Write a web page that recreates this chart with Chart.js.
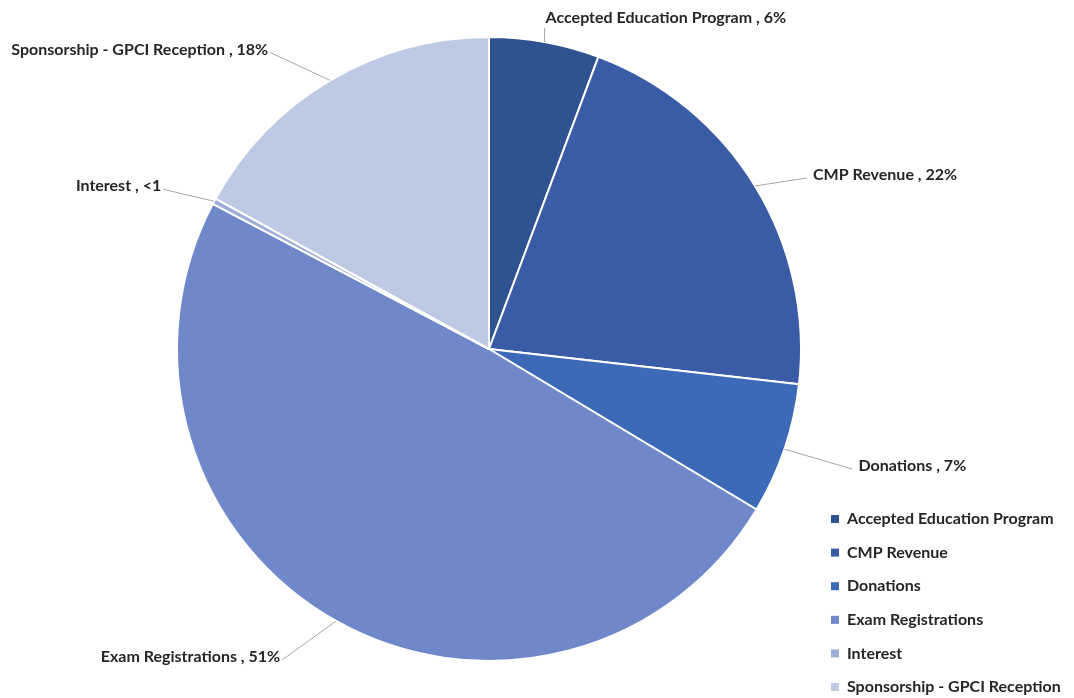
<!DOCTYPE html>
<html>
<head>
<meta charset="utf-8">
<script src="https://cdn.jsdelivr.net/npm/chart.js@4/dist/chart.umd.min.js"></script>
<style>
  html, body { margin: 0; padding: 0; background: #ffffff; }
  #wrap { width: 1074px; height: 698px; position: relative; }
</style>
</head>
<body>
<div id="wrap"><canvas id="revenue_chart"></canvas></div>
<script>
"use strict";

// slice data (clockwise from 12 o'clock)
var categories = ["Accepted Education Program", "CMP Revenue", "Donations", "Exam Registrations", "Interest", "Sponsorship - GPCI Reception"];
var shares = [5.7, 21.1, 6.8, 49.1, 0.3, 17.0];
var shareLabels = ["6%", "22%", "7%", "51%", "<1", "18%"];

var sliceColors = ['#2f5291', '#3a5ca7', '#3d69b9', '#6e88ca', '#9cadd9', '#bec9e4'];
var textColor = '#262626';
var labelFont = 'bold 16px Lato';

// where each callout goes, relative to the slice's outer midpoint
var calloutOffsets = [[0, -14], [52, -8], [68, 20], [-54, 39], [-51, -12], [-60, -28]];

// callouts with leader lines
var calloutPlugin = {
    id: 'callouts',
    afterDatasetsDraw: function (chart) {
        var ctx = chart.ctx;
        var arcs = chart.getDatasetMeta(0).data;
        ctx.save();
        ctx.font = labelFont;
        ctx.textBaseline = 'middle';
        arcs.forEach(function (arc, i) {
            var mid = (arc.startAngle + arc.endAngle) / 2;
            var ax = arc.x + Math.cos(mid) * arc.outerRadius;
            var ay = arc.y + Math.sin(mid) * arc.outerRadius;
            var ex = ax + calloutOffsets[i][0];
            var ey = ay + calloutOffsets[i][1];
            ctx.strokeStyle = '#a6a6a6';
            ctx.lineWidth = 1;
            ctx.beginPath();
            ctx.moveTo(ax, ay);
            ctx.lineTo(ex, ey);
            ctx.stroke();
            var text = categories[i] + ' , ' + shareLabels[i];
            ctx.fillStyle = textColor;
            if (calloutOffsets[i][0] === 0) {
                ctx.textAlign = 'left';
                ctx.fillText(text, ex + 1, ey - 10);
            } else if (calloutOffsets[i][0] > 0) {
                ctx.textAlign = 'left';
                ctx.fillText(text, ex + 6, ey - 3);
            } else {
                ctx.textAlign = 'right';
                ctx.fillText(text, ex - 2, ey - 3);
            }
        });
        ctx.restore();
    }
};

// legend in the lower right corner
var legendPlugin = {
    id: 'cornerLegend',
    afterDraw: function (chart) {
        var ctx = chart.ctx;
        ctx.save();
        ctx.font = labelFont;
        ctx.textBaseline = 'middle';
        ctx.textAlign = 'left';
        chart.data.labels.forEach(function (label, i) {
            var y = 519 + i * 33.6;
            ctx.fillStyle = sliceColors[i];
            ctx.fillRect(831, y - 4, 8, 8);
            ctx.fillStyle = textColor;
            ctx.fillText(label, 847, y);
        });
        ctx.restore();
    }
};

var chartArea = document.getElementById("revenue_chart");
var revenueChart = new Chart(chartArea, {
    type: 'pie',
    data: {
        labels: categories,
        datasets: [
            {
                data: shares,
                backgroundColor: sliceColors,
                borderColor: '#ffffff',
                borderWidth: 2
            }
        ]
    },
    options: {
        responsive: true,
        maintainAspectRatio: false,
        animation: false,
        layout: {
            padding: { left: 176, right: 272, top: 36, bottom: 36 }
        },
        plugins: {
            legend: { display: false },
            tooltip: { enabled: false }
        }
    },
    plugins: [calloutPlugin, legendPlugin]
});
</script>
</body>
</html>
